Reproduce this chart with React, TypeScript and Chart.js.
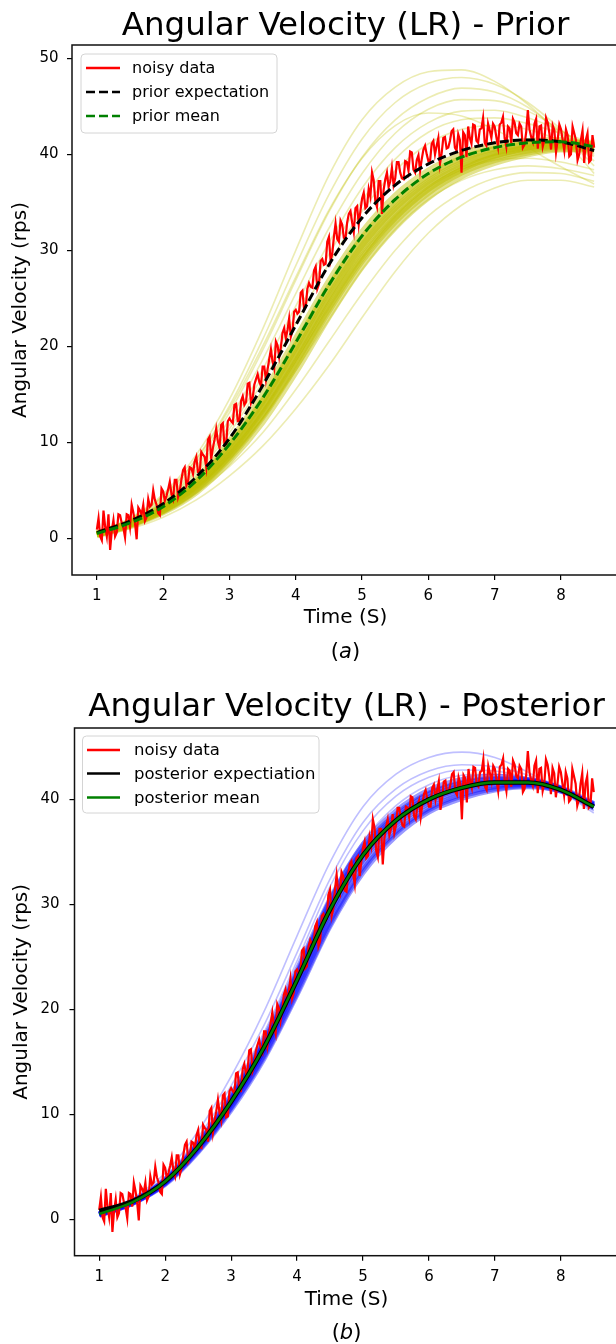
import React, { useEffect, useRef } from "react";
import { Chart, registerables } from "chart.js";

Chart.register(...registerables);

const FONT = '"DejaVu Sans", "Liberation Sans", sans-serif';

// ---------- tick labels ----------
const X_TICKS = [1, 2, 3, 4, 5, 6, 7, 8];
const Y_TICKS_PRIOR = [0, 10, 20, 30, 40, 50];
const Y_TICKS_POST = [0, 10, 20, 30, 40];

// ---------- noisy measurements (time s, rps) ----------
const NOISY_T = [
  1, 1.025, 1.05, 1.075, 1.1, 1.125, 1.15, 1.175, 1.2, 1.225, 1.25, 1.275, 1.3, 1.325, 1.35, 1.375, 1.4, 1.425, 1.45, 1.475,
  1.5, 1.525, 1.55, 1.575, 1.6, 1.625, 1.65, 1.675, 1.7, 1.725, 1.75, 1.775, 1.8, 1.825, 1.85, 1.875, 1.9, 1.925, 1.95, 1.975,
  2, 2.025, 2.05, 2.075, 2.1, 2.125, 2.15, 2.175, 2.2, 2.225, 2.25, 2.275, 2.3, 2.325, 2.35, 2.375, 2.4, 2.425, 2.45, 2.475,
  2.5, 2.525, 2.55, 2.575, 2.6, 2.625, 2.65, 2.675, 2.7, 2.725, 2.75, 2.775, 2.8, 2.825, 2.85, 2.875, 2.9, 2.925, 2.95, 2.975,
  3, 3.025, 3.05, 3.075, 3.1, 3.125, 3.15, 3.175, 3.2, 3.225, 3.25, 3.275, 3.3, 3.325, 3.35, 3.375, 3.4, 3.425, 3.45, 3.475,
  3.5, 3.525, 3.55, 3.575, 3.6, 3.625, 3.65, 3.675, 3.7, 3.725, 3.75, 3.775, 3.8, 3.825, 3.85, 3.875, 3.9, 3.925, 3.95, 3.975,
  4, 4.025, 4.05, 4.075, 4.1, 4.125, 4.15, 4.175, 4.2, 4.225, 4.25, 4.275, 4.3, 4.325, 4.35, 4.375, 4.4, 4.425, 4.45, 4.475,
  4.5, 4.525, 4.55, 4.575, 4.6, 4.625, 4.65, 4.675, 4.7, 4.725, 4.75, 4.775, 4.8, 4.825, 4.85, 4.875, 4.9, 4.925, 4.95, 4.975,
  5, 5.025, 5.05, 5.075, 5.1, 5.125, 5.15, 5.175, 5.2, 5.225, 5.25, 5.275, 5.3, 5.325, 5.35, 5.375, 5.4, 5.425, 5.45, 5.475,
  5.5, 5.525, 5.55, 5.575, 5.6, 5.625, 5.65, 5.675, 5.7, 5.725, 5.75, 5.775, 5.8, 5.825, 5.85, 5.875, 5.9, 5.925, 5.95, 5.975,
  6, 6.025, 6.05, 6.075, 6.1, 6.125, 6.15, 6.175, 6.2, 6.225, 6.25, 6.275, 6.3, 6.325, 6.35, 6.375, 6.4, 6.425, 6.45, 6.475,
  6.5, 6.525, 6.55, 6.575, 6.6, 6.625, 6.65, 6.675, 6.7, 6.725, 6.75, 6.775, 6.8, 6.825, 6.85, 6.875, 6.9, 6.925, 6.95, 6.975,
  7, 7.025, 7.05, 7.075, 7.1, 7.125, 7.15, 7.175, 7.2, 7.225, 7.25, 7.275, 7.3, 7.325, 7.35, 7.375, 7.4, 7.425, 7.45, 7.475,
  7.5, 7.525, 7.55, 7.575, 7.6, 7.625, 7.65, 7.675, 7.7, 7.725, 7.75, 7.775, 7.8, 7.825, 7.85, 7.875, 7.9, 7.925, 7.95, 7.975,
  8, 8.025, 8.05, 8.075, 8.1, 8.125, 8.15, 8.175, 8.2, 8.225, 8.25, 8.275, 8.3, 8.325, 8.35, 8.375, 8.4, 8.425, 8.45, 8.475,
  8.5,
];
const NOISY_V = [
  0.9, 2.1, 0.2, -0.2, 2.9, 1.2, 0.2, 2.5, -1.2, 0.8, 1.9, 0.2, 0.6, 2.5, 2.4, 1.6, 1.1, 0.1, 2.5, 2.4,
  1.2, 3.5, 2.7, 1.6, -0.1, 3.2, 2.9, 2.5, 3.5, 1.8, 2.2, 4.1, 3.3, 3.5, 5.0, 4.0, 3.5, 2.6, 2.4, 5.2,
  4.9, 3.9, 4.4, 5.1, 5.9, 4.6, 4.1, 6.1, 6.1, 4.3, 4.9, 6.1, 7.1, 7.4, 5.5, 5.9, 7.4, 7.3, 6.7, 8.0,
  8.5, 6.9, 6.8, 9.0, 8.7, 8.5, 7.4, 10.3, 10.6, 8.3, 9.4, 10.3, 11.4, 10.1, 9.4, 11.8, 12.0, 9.7, 9.8, 12.2,
  12.5, 12.2, 12.0, 13.9, 14.0, 12.2, 12.2, 14.3, 14.8, 13.9, 14.2, 16.1, 16.2, 14.1, 14.6, 16.0, 16.6, 17.1, 16.3, 15.9,
  17.9, 17.9, 16.5, 17.6, 18.7, 19.7, 18.4, 17.7, 20.5, 20.1, 18.9, 19.9, 21.4, 21.9, 20.8, 21.7, 22.9, 21.0, 21.6, 23.6,
  23.8, 23.4, 23.6, 25.6, 25.8, 23.9, 24.1, 26.0, 26.6, 26.2, 26.1, 27.9, 28.3, 26.0, 26.5, 28.9, 29.1, 28.5, 28.6, 30.9,
  31.4, 28.9, 29.6, 31.4, 32.8, 31.2, 30.9, 33.1, 32.7, 31.3, 31.2, 32.9, 33.8, 34.1, 32.9, 31.9, 34.4, 34.6, 32.7, 34.1,
  35.4, 36.0, 34.4, 34.6, 36.4, 35.6, 38.1, 37.3, 35.1, 34.5, 37.2, 37.2, 33.8, 36.3, 37.4, 38.1, 36.6, 37.2, 38.6, 36.8,
  37.5, 39.2, 39.2, 38.1, 37.5, 37.4, 39.3, 39.2, 38.3, 40.3, 40.2, 38.4, 38.1, 39.4, 39.9, 38.3, 39.5, 40.5, 40.9, 40.0,
  39.3, 39.3, 41.1, 41.4, 40.0, 40.9, 41.7, 39.0, 40.1, 41.7, 41.8, 40.6, 40.7, 41.4, 42.4, 42.6, 40.7, 40.4, 42.1, 41.5,
  38.1, 42.3, 42.0, 39.7, 42.9, 41.7, 41.1, 43.1, 43.0, 41.4, 41.2, 42.6, 42.7, 43.8, 41.2, 40.9, 43.2, 42.5, 41.7, 43.2,
  42.9, 41.8, 40.8, 43.1, 43.3, 43.9, 41.7, 40.8, 42.9, 42.7, 41.2, 43.7, 43.3, 42.2, 42.0, 43.2, 42.9, 40.7, 41.0, 42.3,
  44.6, 42.6, 41.8, 41.3, 43.2, 43.7, 40.6, 42.9, 43.0, 40.8, 41.5, 43.8, 43.3, 42.2, 40.5, 43.0, 42.5, 40.2, 41.5, 43.1,
  42.6, 41.5, 40.4, 42.6, 42.0, 39.8, 40.0, 42.9, 42.2, 41.5, 39.4, 40.0, 41.5, 42.5, 39.1, 41.5, 42.2, 39.2, 39.4, 42.0,
  40.7,
];

// ---------- smooth curves, sampled at these times ----------
const SMOOTH_T = [1, 1.5, 2, 2.5, 3, 3.5, 4, 4.5, 5, 5.5, 6, 6.5, 7, 7.5, 8, 8.5];

const PRIOR_EXPECTATION = [0.6, 1.8, 3.6, 6.4, 10.4, 15.9, 22.2, 28.5, 33.4, 36.8, 39.0, 40.4, 41.2, 41.5, 41.3, 40.4];
const PRIOR_MEAN = [0.5, 1.6, 3.3, 6.0, 9.8, 14.6, 20.4, 26.4, 31.5, 35.3, 38.0, 39.7, 40.7, 41.2, 41.3, 40.8];

// prior draws far from the mean (faint single lines)
const PRIOR_SAMPLES_SPREAD = [
  [0.6, 2.1, 4.6, 8.7, 14.5, 21.8, 30.0, 37.8, 43.6, 47.0, 48.6, 48.8, 47.6, 45.2, 41.9, 38.0],
  [0.6, 2.0, 4.4, 8.3, 13.8, 20.7, 28.4, 35.8, 41.6, 45.4, 47.4, 48.0, 47.3, 45.4, 42.6, 39.3],
  [0.6, 1.9, 4.2, 7.9, 13.1, 19.6, 26.9, 34.0, 39.7, 43.6, 45.9, 46.9, 46.5, 44.9, 42.2, 38.8],
  [0.6, 1.9, 4.0, 7.5, 12.4, 18.6, 25.5, 32.3, 38.0, 42.2, 44.7, 45.7, 45.6, 44.5, 42.5, 40.0],
  [0.6, 1.8, 3.9, 7.2, 11.8, 17.6, 24.2, 30.8, 36.5, 40.7, 43.3, 44.5, 44.6, 43.8, 42.4, 40.5],
  [0.6, 1.8, 3.8, 7.0, 11.4, 16.9, 23.2, 29.6, 35.2, 39.5, 42.3, 43.6, 43.8, 43.2, 42.2, 41.2],
  [0.6, 1.8, 3.7, 6.8, 11.0, 16.3, 22.4, 28.6, 34.1, 38.3, 41.1, 42.6, 43.0, 42.6, 41.4, 39.8],
  [0.6, 2.0, 4.4, 8.2, 13.5, 20.0, 27.2, 34.2, 39.6, 43.0, 44.3, 44.0, 42.6, 40.7, 38.7, 36.9],
  [0.3, 1.0, 2.2, 4.0, 6.5, 9.6, 13.5, 18.0, 23.0, 27.8, 31.8, 34.7, 36.5, 37.3, 37.3, 36.6],
  [0.4, 1.2, 2.6, 4.7, 7.5, 11.0, 15.5, 20.5, 25.5, 30.0, 33.6, 36.0, 37.5, 38.1, 38.0, 37.2],
  [0.4, 1.4, 2.9, 5.3, 8.5, 12.5, 17.5, 22.8, 28.0, 32.2, 35.3, 37.3, 38.4, 38.8, 38.5, 37.8],
  [0.5, 1.5, 3.1, 5.6, 9.0, 13.3, 18.5, 24.0, 29.2, 33.5, 36.5, 38.4, 39.4, 39.6, 39.2, 38.4],
];

// prior draws packed around the mean (dense olive band)
const PRIOR_SAMPLES_CORE = [
  [0.5, 1.7, 3.4, 6.2, 10.1, 15.0, 20.8, 26.8, 31.9, 35.7, 38.3, 40.0, 41.0, 41.4, 41.5, 41.0],
  [0.5, 1.6, 3.2, 5.8, 9.5, 14.2, 19.9, 25.9, 31.0, 34.8, 37.6, 39.4, 40.5, 41.0, 41.2, 40.8],
  [0.4, 1.5, 3.1, 5.6, 9.2, 13.8, 19.4, 25.3, 30.5, 34.4, 37.2, 39.1, 40.2, 40.8, 41.1, 40.8],
  [0.4, 1.5, 3.0, 5.4, 8.9, 13.4, 18.9, 24.8, 30.0, 33.9, 36.8, 38.7, 39.9, 40.6, 40.9, 40.7],
  [0.4, 1.4, 2.9, 5.2, 8.6, 13.0, 18.4, 24.3, 29.4, 33.4, 36.4, 38.4, 39.7, 40.4, 40.8, 40.6],
  [0.4, 1.4, 2.8, 5.0, 8.3, 12.6, 17.9, 23.7, 28.9, 33.0, 36.0, 38.1, 39.4, 40.2, 40.6, 40.5],
  [0.3, 1.3, 2.7, 4.8, 8.0, 12.1, 17.3, 23.1, 28.3, 32.4, 35.5, 37.7, 39.1, 40.0, 40.5, 40.5],
  [0.4, 1.5, 3.1, 5.5, 9.0, 13.6, 19.2, 25.1, 30.3, 34.2, 37.0, 38.9, 40.1, 40.7, 41.0, 40.8],
  [0.5, 1.6, 3.3, 5.9, 9.7, 14.4, 20.2, 26.2, 31.3, 35.1, 37.8, 39.6, 40.6, 41.1, 41.3, 40.9],
  [0.4, 1.4, 2.9, 5.1, 8.5, 12.8, 18.2, 24.0, 29.2, 33.3, 36.3, 38.4, 39.8, 40.7, 41.2, 41.2],
];

const POSTERIOR_EXPECTATION = [0.8, 1.7, 3.6, 6.9, 11.2, 16.4, 22.8, 29.5, 34.7, 38.0, 40.0, 41.1, 41.6, 41.6, 40.9, 39.3];
const POSTERIOR_MEAN = [0.5, 1.6, 3.6, 6.9, 11.2, 16.4, 22.8, 29.5, 34.7, 38.0, 40.0, 41.1, 41.6, 41.6, 40.9, 39.3];

const POSTERIOR_SAMPLES_SPREAD = [
  [0.6, 2.0, 4.4, 8.4, 13.6, 19.8, 27.0, 34.0, 39.3, 42.4, 44.0, 44.5, 44.0, 42.6, 40.8, 38.7],
  [0.6, 1.9, 4.1, 7.8, 12.7, 18.5, 25.4, 32.4, 37.8, 41.0, 42.7, 43.3, 43.1, 42.3, 40.8, 38.9],
  [0.6, 1.8, 3.9, 7.5, 12.2, 17.8, 24.6, 31.7, 37.0, 40.3, 42.1, 42.8, 42.7, 42.0, 40.7, 39.0],
  [0.5, 1.7, 3.8, 7.2, 11.7, 17.1, 23.7, 30.7, 36.0, 39.4, 41.4, 42.3, 42.4, 41.9, 40.8, 39.2],
];

const POSTERIOR_SAMPLES_CORE = [
  [0.5, 1.7, 3.7, 7.1, 11.5, 16.8, 23.3, 30.0, 35.2, 38.4, 40.5, 41.5, 41.9, 41.8, 41.0, 39.4],
  [0.5, 1.6, 3.5, 6.8, 11.0, 16.1, 22.4, 29.0, 34.2, 37.5, 39.6, 40.8, 41.4, 41.5, 40.9, 39.4],
  [0.4, 1.5, 3.4, 6.6, 10.7, 15.7, 21.9, 28.4, 33.6, 37.0, 39.2, 40.5, 41.2, 41.4, 40.9, 39.5],
  [0.5, 1.6, 3.6, 6.9, 11.2, 16.4, 22.8, 29.5, 34.7, 38.0, 40.0, 41.1, 41.6, 41.6, 40.9, 39.3],
  [0.4, 1.5, 3.3, 6.4, 10.4, 15.3, 21.4, 27.9, 33.0, 36.5, 38.8, 40.1, 40.9, 41.2, 40.8, 39.5],
  [0.5, 1.7, 3.8, 7.3, 11.8, 17.2, 23.8, 30.5, 35.7, 38.9, 40.9, 41.9, 42.2, 41.9, 41.0, 39.2],
  [0.4, 1.5, 3.4, 6.5, 10.6, 15.5, 21.6, 28.1, 33.3, 36.8, 39.0, 40.3, 41.0, 41.3, 40.8, 39.6],
  [0.5, 1.6, 3.6, 7.0, 11.3, 16.6, 23.0, 29.8, 35.0, 38.2, 40.2, 41.3, 41.7, 41.7, 41.0, 39.3],
  [0.5, 1.6, 3.5, 6.8, 11.1, 16.2, 22.6, 29.2, 34.4, 37.7, 39.8, 41.0, 41.6, 41.7, 41.1, 39.6],
  [0.5, 1.7, 3.7, 7.2, 11.6, 17.0, 23.5, 30.3, 35.5, 38.6, 40.6, 41.6, 42.0, 41.9, 41.1, 39.3],
];

// ---------- helpers ----------
const pts = (ts: number[], vs: number[]) => ts.map((t, i) => ({ x: t, y: vs[i] }));

type LegendRow = { label: string; color: string; dash: number[]; width: number };
type PanelCfg = {
  height: number;
  padTop: number;
  padRight: number;
  yAxisWidth: number;
  xAxisHeight: number;
  yMin: number;
  yMax: number;
  yTicks: number[];
  yTickPad: number;
  xTickPad: number;
  xTitlePadBottom: number;
  yTitlePadTop: number;
  title: string;
  titleSize: number;
  titleBaseline: number;
  caption: string;
  captionBaseline: number;
  legendBox: [number, number, number, number];
  legendRowsY: number[];
  legendLineX: [number, number];
  legendTextX: number;
  legendFont: number;
  legendRows: LegendRow[];
  datasets: any[];
};

function makeDecor(c: PanelCfg) {
  return {
    id: "decor",
    afterDraw(chart: any) {
      const ctx: CanvasRenderingContext2D = chart.ctx;
      const ca = chart.chartArea;
      const cx = (ca.left + ca.right) / 2;
      ctx.save();
      // axes frame (spines)
      ctx.strokeStyle = "#111";
      ctx.lineWidth = 1.5;
      ctx.setLineDash([]);
      ctx.strokeRect(ca.left, ca.top, ca.right - ca.left, ca.bottom - ca.top);
      // title
      ctx.fillStyle = "#000";
      ctx.textAlign = "left";
      ctx.textBaseline = "alphabetic";
      ctx.font = `${c.titleSize}px ${FONT}`;
      const tw = ctx.measureText(c.title).width;
      ctx.fillText(c.title, cx - tw / 2, c.titleBaseline);
      // caption "(a)" with italic letter
      const capSize = 21;
      const parts: [string, boolean][] = [["(", false], [c.caption, true], [")", false]];
      let total = 0;
      const widths = parts.map(([s, it]) => {
        ctx.font = `${it ? "italic " : ""}${capSize}px ${FONT}`;
        const w = ctx.measureText(s).width;
        total += w;
        return w;
      });
      let x = cx - total / 2;
      parts.forEach(([s, it], i) => {
        ctx.font = `${it ? "italic " : ""}${capSize}px ${FONT}`;
        ctx.fillText(s, x, c.captionBaseline);
        x += widths[i];
      });
      // legend
      const [bx, by, bw, bh] = c.legendBox;
      ctx.beginPath();
      ctx.roundRect(bx, by, bw, bh, 4);
      ctx.fillStyle = "rgba(255,255,255,0.85)";
      ctx.fill();
      ctx.strokeStyle = "#d4d4d4";
      ctx.lineWidth = 1;
      ctx.stroke();
      ctx.font = `${c.legendFont}px ${FONT}`;
      ctx.textBaseline = "middle";
      c.legendRows.forEach((r, i) => {
        const y = c.legendRowsY[i];
        ctx.beginPath();
        ctx.setLineDash(r.dash);
        ctx.strokeStyle = r.color;
        ctx.lineWidth = r.width;
        ctx.moveTo(c.legendLineX[0], y);
        ctx.lineTo(c.legendLineX[1], y);
        ctx.stroke();
        ctx.setLineDash([]);
        ctx.fillStyle = "#000";
        ctx.fillText(r.label, c.legendTextX, y + 1);
      });
      ctx.restore();
    },
  };
}

function buildConfig(c: PanelCfg): any {
  return {
    type: "line",
    data: { datasets: c.datasets },
    options: {
      animation: false,
      responsive: false,
      devicePixelRatio: 1,
      events: [],
      layout: { padding: { top: c.padTop, right: c.padRight, bottom: 0, left: 0 } },
      plugins: { legend: { display: false }, title: { display: false }, tooltip: { enabled: false } },
      elements: { point: { radius: 0 } },
      scales: {
        x: {
          type: "linear",
          min: 0.625,
          max: 8.875,
          afterBuildTicks: (s: any) => {
            s.ticks = X_TICKS.map((v) => ({ value: v }));
          },
          afterFit: (s: any) => {
            s.height = c.xAxisHeight;
          },
          ticks: {
            autoSkip: false,
            maxRotation: 0,
            padding: c.xTickPad,
            color: "#000",
            font: { family: FONT, size: 15 },
            callback: (v: number) => String(v),
          },
          grid: { drawOnChartArea: false, drawTicks: true, tickLength: 5, tickColor: "#000", lineWidth: 1.2 },
          border: { display: false },
          title: {
            display: true,
            text: "Time (S)",
            color: "#000",
            font: { family: FONT, size: 20 },
            padding: { top: 0, bottom: c.xTitlePadBottom },
          },
        },
        y: {
          type: "linear",
          min: c.yMin,
          max: c.yMax,
          afterBuildTicks: (s: any) => {
            s.ticks = c.yTicks.map((v) => ({ value: v }));
          },
          afterFit: (s: any) => {
            s.width = c.yAxisWidth;
          },
          ticks: {
            autoSkip: false,
            padding: c.yTickPad,
            color: "#000",
            font: { family: FONT, size: 15 },
            callback: (v: number) => String(v),
          },
          grid: { drawOnChartArea: false, drawTicks: true, tickLength: 5, tickColor: "#000", lineWidth: 1.2 },
          border: { display: false },
          title: {
            display: true,
            text: "Angular Velocity (rps)",
            color: "#000",
            font: { family: FONT, size: 20 },
            padding: { top: c.yTitlePadTop, bottom: 0 },
          },
        },
      },
    },
    plugins: [makeDecor(c)],
  };
}

const smoothLine = (vs: number[], color: string, width: number, dash: number[] = []) => ({
  data: pts(SMOOTH_T, vs),
  borderColor: color,
  borderWidth: width,
  borderDash: dash,
  cubicInterpolationMode: "monotone",
  pointRadius: 0,
  fill: false,
});

const noisyLine = () => ({
  data: pts(NOISY_T, NOISY_V),
  borderColor: "#ff0000",
  borderWidth: 2.2,
  tension: 0,
  pointRadius: 0,
  fill: false,
});

const PRIOR_CFG: PanelCfg = {
  height: 680,
  padTop: 45,
  padRight: 1,
  yAxisWidth: 72,
  xAxisHeight: 105,
  yMin: -3.82,
  yMax: 51.39,
  yTicks: Y_TICKS_PRIOR,
  yTickPad: 8.5,
  xTickPad: 7.5,
  xTitlePadBottom: 50,
  yTitlePadTop: 9,
  title: "Angular Velocity (LR) - Prior",
  titleSize: 32.5,
  titleBaseline: 35,
  caption: "a",
  captionBaseline: 658,
  legendBox: [81, 54, 196, 79],
  legendRowsY: [68, 92, 116],
  legendLineX: [86, 120],
  legendTextX: 132,
  legendFont: 16,
  legendRows: [
    { label: "noisy data", color: "#ff0000", dash: [], width: 2.5 },
    { label: "prior expectation", color: "#000000", dash: [9, 4], width: 2.5 },
    { label: "prior mean", color: "#008000", dash: [9, 4], width: 2.5 },
  ],
  datasets: [
    smoothLine(PRIOR_MEAN, "#008000", 3, [9, 4]),
    smoothLine(PRIOR_EXPECTATION, "#000000", 3, [9, 4]),
    noisyLine(),
    ...PRIOR_SAMPLES_CORE.map((s) => smoothLine(s, "rgba(191,191,0,0.45)", 6)),
    ...PRIOR_SAMPLES_SPREAD.map((s) => smoothLine(s, "rgba(191,191,0,0.3)", 1.6)),
  ],
};

const POST_CFG: PanelCfg = {
  height: 664,
  padTop: 48,
  padRight: 1.5,
  yAxisWidth: 74.5,
  xAxisHeight: 88.3,
  yMin: -3.47,
  yMax: 46.8,
  yTicks: Y_TICKS_POST,
  yTickPad: 10,
  xTickPad: 7.5,
  xTitlePadBottom: 32,
  yTitlePadTop: 10,
  title: "Angular Velocity (LR) - Posterior",
  titleSize: 32.5,
  titleBaseline: 35.5,
  caption: "b",
  captionBaseline: 659,
  legendBox: [82.5, 56, 236.5, 77],
  legendRowsY: [70, 93.5, 117.5],
  legendLineX: [87, 120],
  legendTextX: 134,
  legendFont: 16.5,
  legendRows: [
    { label: "noisy data", color: "#ff0000", dash: [], width: 2.5 },
    { label: "posterior expectiation", color: "#000000", dash: [], width: 2.5 },
    { label: "posterior mean", color: "#008000", dash: [], width: 2.5 },
  ],
  datasets: [
    smoothLine(POSTERIOR_MEAN, "#008000", 2.5),
    smoothLine(POSTERIOR_EXPECTATION, "#000000", 4.5),
    noisyLine(),
    ...POSTERIOR_SAMPLES_CORE.map((s) => smoothLine(s, "rgba(0,0,255,0.4)", 5)),
    ...POSTERIOR_SAMPLES_SPREAD.map((s) => smoothLine(s, "rgba(0,0,255,0.25)", 1.6)),
  ],
};

function Panel({ top, cfg }: { top: number; cfg: PanelCfg }) {
  const ref = useRef<HTMLCanvasElement>(null);
  useEffect(() => {
    if (!ref.current) return;
    const chart = new Chart(ref.current, buildConfig(cfg));
    return () => chart.destroy();
  }, [cfg]);
  return (
    <div style={{ position: "absolute", left: 0, top, width: 620, height: cfg.height }}>
      <canvas ref={ref} width={620} height={cfg.height} style={{ display: "block", width: 620, height: cfg.height }} />
    </div>
  );
}

export default function App() {
  return (
    <div
      style={{
        position: "absolute",
        left: 0,
        top: 0,
        width: 616,
        height: 1344,
        overflow: "hidden",
        background: "#ffffff",
      }}
    >
      <Panel top={0} cfg={PRIOR_CFG} />
      <Panel top={680} cfg={POST_CFG} />
    </div>
  );
}
